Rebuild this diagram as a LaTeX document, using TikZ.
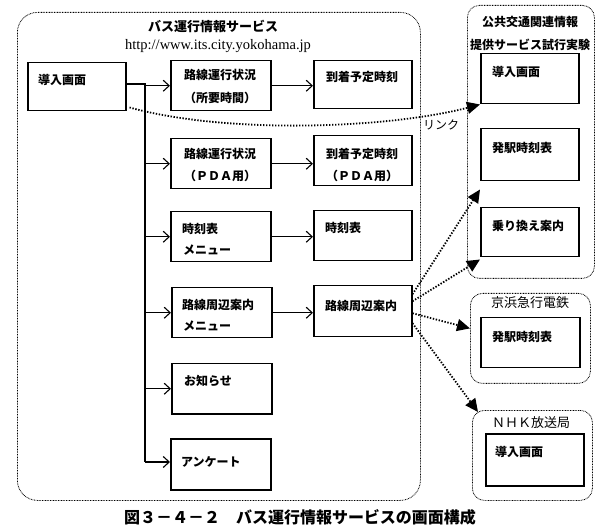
\documentclass[tikz,border=0pt]{standalone}
\usepackage{fontspec}
\setmainfont{Noto Sans CJK JP}
\newfontfamily\urlfont{Liberation Serif}
\usetikzlibrary{arrows.meta}
\begin{document}
\begin{tikzpicture}[x=1pt,y=-1pt,
  box/.style={draw, line width=1.5pt, rectangle, anchor=north west, inner sep=0pt},
  cont/.style={draw, line width=0.8pt, dash pattern=on 0.8pt off 0.8pt, rectangle, anchor=north west, inner sep=0pt},
  txt/.style={inner sep=0pt, font=\bfseries\fontsize{12}{14}\selectfont},
  ttl/.style={inner sep=0pt, font=\fontsize{13}{15}\selectfont},
  arr/.style={line width=1.4pt, -{Straight Barb[length=6pt,width=11pt,line width=1.1pt]}},
  link/.style={line width=1.8pt, dash pattern=on 1.4pt off 1.6pt, -{Triangle[length=13pt,width=12pt]}},
]
\useasboundingbox (0,0) rectangle (600,529);
% containers
\node[cont, rounded corners=20pt, minimum width=403pt, minimum height=488pt] (main) at (17,12) {};
\node[cont, rounded corners=12pt, minimum width=127pt, minimum height=273pt] (pub) at (467,5) {};
\node[cont, rounded corners=12pt, minimum width=120pt, minimum height=90pt] (kei) at (470,293) {};
\node[cont, rounded corners=12pt, minimum width=120pt, minimum height=90pt] (nhk) at (472,410) {};
% titles
\node[ttl, font=\bfseries\fontsize{13}{15}\selectfont] (t1) at (213,26) {バス運行情報サービス};
\node[inner sep=0pt, font=\urlfont\fontsize{14.5}{16}\selectfont] (url) at (218,46) {http://www.its.city.yokohama.jp};
\node[txt] (t2) at (530,22) {公共交通関連情報};
\node[txt] (t3) at (530,45) {提供サービス試行実験};
\node[ttl] (t4) at (530,303) {京浜急行電鉄};
\node[ttl] (t5) at (531,423) {ＮＨＫ放送局};
% left boxes
\node[box, minimum width=98pt, minimum height=48pt] (intro) at (27,62) {};
\node[txt, anchor=west] at (38,80) {導入画面};
\node[box, minimum width=100pt, minimum height=50pt] (b1) at (170,60) {};
\node[txt] at (220,75) {路線運行状況};
\node[txt] at (220,98) {（所要時間）};
\node[box, minimum width=100pt, minimum height=50pt] (b2) at (170,138) {};
\node[txt] at (220,154) {路線運行状況};
\node[txt] at (220,176) {（ＰＤＡ用）};
\node[box, minimum width=100pt, minimum height=50pt] (b3) at (170,211) {};
\node[txt, anchor=west] at (182,229) {時刻表};
\node[txt, anchor=west] at (183,250) {メニュー};
\node[box, minimum width=100pt, minimum height=50pt] (b4) at (171,287) {};
\node[txt, anchor=west] at (182,305) {路線周辺案内};
\node[txt, anchor=west] at (183,326) {メニュー};
\node[box, minimum width=100pt, minimum height=50pt] (b5) at (171,363) {};
\node[txt, anchor=west] at (184,381) {お知らせ};
\node[box, minimum width=100pt, minimum height=51pt] (b6) at (170,438) {};
\node[txt, anchor=west] at (181,462) {アンケート};
% right column
\node[box, minimum width=98pt, minimum height=48pt] (r1) at (313,60) {};
\node[txt] at (362,77) {到着予定時刻};
\node[box, minimum width=98pt, minimum height=50pt] (r2) at (313,135) {};
\node[txt] at (362,154) {到着予定時刻};
\node[txt] at (362,176) {（ＰＤＡ用）};
\node[box, minimum width=98pt, minimum height=50pt] (r3) at (313,210) {};
\node[txt, anchor=west] at (325,228) {時刻表};
\node[box, minimum width=98pt, minimum height=51pt] (r4) at (313,285) {};
\node[txt, anchor=west] at (325,306) {路線周辺案内};
% inner right boxes
\node[box, minimum width=98pt, minimum height=50pt] (cin) at (480,53) {};
\node[txt, anchor=west] at (492,72) {導入画面};
\node[box, minimum width=98pt, minimum height=52pt] (c2) at (480,128) {};
\node[txt, anchor=west] at (492,148) {発駅時刻表};
\node[box, minimum width=98pt, minimum height=49pt] (c3) at (480,207) {};
\node[txt, anchor=west] at (492,226) {乗り換え案内};
\node[box, minimum width=99pt, minimum height=50pt] (k1) at (480,317) {};
\node[txt, anchor=west] at (492,337) {発駅時刻表};
\node[box, minimum width=98pt, minimum height=52pt] (n1) at (485,433) {};
\node[txt, anchor=west] at (495,452) {導入画面};
% trunk
\coordinate (tt) at (145,84);
\coordinate (tb) at (145,462);
\draw[line width=1.4pt] (intro.east |- tt) -- (tt) -- (tb);
\foreach \b in {b1,b2,b3,b4,b5} {\draw[arr] (\b.west -| tt) -- (\b.west);}
\draw[arr] (tb) -- (tb -| b6.west);
\draw[arr] (b1.east) -- (b1.east -| r1.west);
\draw[arr] (b2.east) -- (b2.east -| r2.west);
\draw[arr] (b3.east) -- (b3.east -| r3.west);
\draw[arr] (b4.east) -- (b4.east -| r4.west);
% links
\draw[link] ([xshift=3pt,yshift=4pt]intro.south east) .. controls (230,135) and (390,128) .. (cin.south west);
\node[ttl, font=\fontsize{12}{14}\selectfont] (lk) at (441,125) {リンク};
\draw[link] ([yshift=17pt]r4.east) -- ([yshift=-8pt]c2.south west);
\draw[link] ([yshift=10pt]r4.east) -- ([yshift=-2pt]c3.south west);
\draw[link] ([yshift=-2pt]r4.east) -- ([yshift=10pt]kei.west);
\draw[link] ([yshift=-12pt]r4.east) -- ([xshift=6pt,yshift=-2pt]nhk.north west);
% caption
\node[inner sep=0pt, font=\bfseries\fontsize{16}{18}\selectfont] (cap) at (300,517) {図３－４－２　バス運行情報サービスの画面構成};
\end{tikzpicture}
\end{document}
